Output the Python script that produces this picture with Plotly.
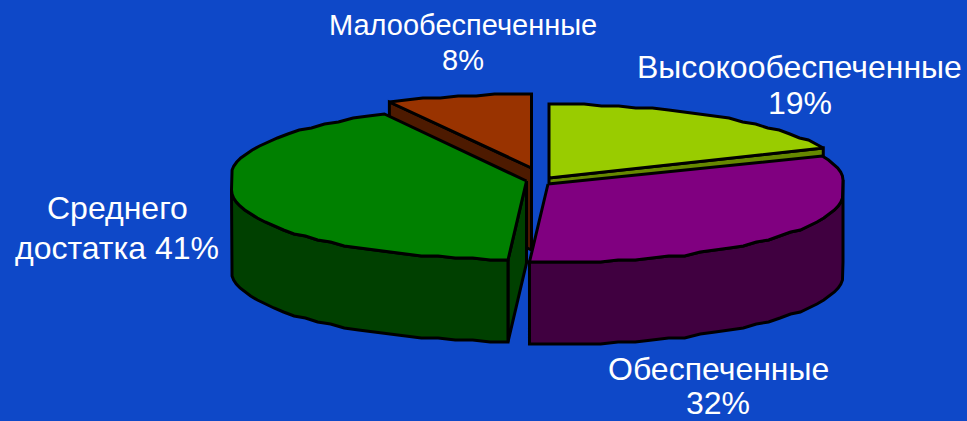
import numpy as np
import plotly.graph_objects as go

# data
categories = ["Высокообеспеченные", "Обеспеченные", "Среднего достатка", "Малообеспеченные"]
shares = [19, 32, 41, 8]

# label text and placement
label_lines = ["Малообеспеченные", "8%", "Высокообеспеченные", "19%", "Среднего", "достатка 41%", "Обеспеченные", "32%"]
label_x = [463, 463, 799, 800, 117, 117, 718, 718]
label_y = [25, 60, 67, 103, 208, 248, 369, 403]
label_size = [29, 29, 32, 32, 32, 32, 32, 32]

# styling
top_colors = ["#99cc00", "#800080", "#008000", "#993300"]
side_colors = ["#668800", "#400040", "#004000", "#4d1a00"]
apex_x = [549, 548, 526.5, 531.5]
apex_y = [178, 184, 181, 168]
back_shift = [-4, -3, -6, -4]
FRONT_SHIFT = 9

# projection of the tilted disc, in pixels
RX, RY, DEPTH = 295, 70, 82
STEP = 3.5
SNAP = 2
BG = "#0e48c8"


def rim(i, a0, a1):
    n = max(2, int(round((a1 - a0) / STEP)) + 1)
    angles = np.linspace(a0, a1, n)
    xs = apex_x[i] + RX * np.sin(np.radians(angles))
    shift = np.where(np.cos(np.radians(angles)) > 0, back_shift[i], FRONT_SHIFT)
    ys = apex_y[i] + shift - RY * np.cos(np.radians(angles))
    return xs, np.round(ys / SNAP) * SNAP


fig = go.Figure()


def poly(xs, ys, color):
    fig.add_trace(go.Scatter(
        x=list(xs) + [xs[0]], y=list(ys) + [ys[0]], mode="lines", fill="toself",
        fillcolor=color, line=dict(color="black", width=3), hoverinfo="skip", showlegend=False,
    ))


edges = np.concatenate([[0], np.cumsum(shares)]) * 3.6

for i in [3, 0, 2, 1]:
    a0, a1 = edges[i], edges[i + 1]
    ax, ay = apex_x[i], apex_y[i]
    # cut faces that look towards the viewer
    if i in (0, 2, 3):
        a = a1 if i == 0 else a0
        xs, ys = rim(i, a, a)
        rx, ry = xs[0], ys[0]
        poly([ax, rx, rx, ax], [ay, ry, ry + DEPTH, ay + DEPTH], side_colors[i])
    # outer wall: only the front half of the rim shows
    w0, w1 = max(a0, 90), min(a1, 270)
    if w1 > w0:
        xs, ys = rim(i, w0, w1)
        poly(np.concatenate([xs, xs[::-1]]), np.concatenate([ys, ys[::-1] + DEPTH]), side_colors[i])
    # top face
    if a0 < 90 < a1 or a0 < 270 < a1:
        cut = 90 if a0 < 90 < a1 else 270
        x1, y1 = rim(i, a0, cut - 1e-6)
        x2, y2 = rim(i, cut + 1e-6, a1)
        xs, ys = np.concatenate([x1, x2]), np.concatenate([y1, y2])
    else:
        xs, ys = rim(i, a0, a1)
    poly(np.concatenate([[ax], xs]), np.concatenate([[ay], ys]), top_colors[i])

for t, x, y, s in zip(label_lines, label_x, label_y, label_size):
    fig.add_annotation(x=x, y=y, text=t, showarrow=False, xanchor="center", yanchor="middle",
                       align="center", font=dict(family="Liberation Sans", size=s, color="white"))

fig.update_layout(
    width=967, height=421, margin=dict(l=0, r=0, t=0, b=0),
    paper_bgcolor=BG, plot_bgcolor=BG, showlegend=False,
    xaxis=dict(range=[0, 967], visible=False, fixedrange=True),
    yaxis=dict(range=[421, 0], visible=False, fixedrange=True),
)
fig.write_html("out.html", config={"displayModeBar": False},
               post_script="document.body.style.margin='0';document.body.style.background='%s';" % BG)
